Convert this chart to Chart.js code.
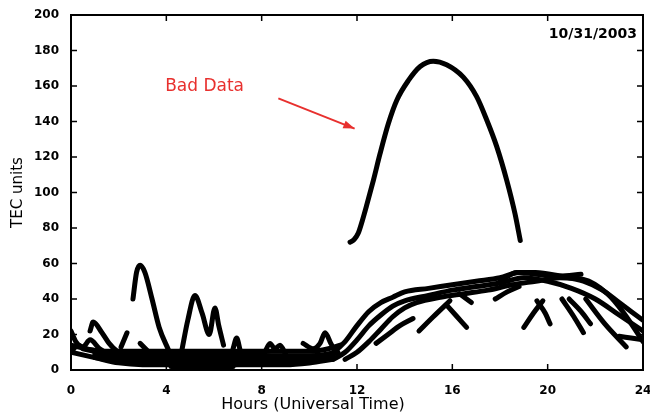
<!DOCTYPE html>
<html>
<head>
<meta charset="utf-8">
<script src="https://cdn.jsdelivr.net/npm/chart.js@4.4.1/dist/chart.umd.min.js"></script>
<style>
  html, body { margin: 0; padding: 0; background: #fff; }
  #wrap { width: 650px; height: 416px; }
</style>
</head>
<body>
<div id="wrap"><canvas id="myChart" width="650" height="416"></canvas></div>
<script>
// each track: [hour UT, TEC units]
const badData = [[11.71,72],[11.88,73.5],[12.05,77],[12.22,84],[12.41,93],[12.69,107],[12.97,122],[13.32,139],[13.67,152],[14.15,163],[14.65,171],[15.2,174],[15.76,172],[16.46,165],[17.02,154],[17.44,141],[17.86,126],[18.28,107],[18.63,88],[18.85,73]];

const startA = [[0,22],[0.2,16],[0.5,13],[0.8,17],[1.2,12],[1.6,9],[2.0,8]];
const startB = [[0,10],[0.3,14],[0.6,12],[1.0,11]];
const bump1h = [[0.8,22],[0.93,27],[1.3,21],[1.6,15],[1.9,11],[2.2,9]];
const bump2h = [[2.1,13],[2.35,21]];
const peak3h = [[2.6,40],[2.75,55],[2.9,59],[3.1,55],[3.4,40],[3.7,24],[4.1,11]];
const blob3h = [[2.9,15],[3.2,11]];
const peak5h = [[4.65,11],[4.9,28],[5.2,42],[5.5,32],[5.8,20],[6.04,35],[6.2,25],[6.4,14]];
const bump7h = [[6.8,12],[6.95,18],[7.1,11]];
const bump8h = [[8.1,9],[8.35,15],[8.55,12],[8.77,14],[9.0,9]];
const bump10h = [[9.74,15],[10.15,12],[10.45,15],[10.66,21],[10.9,15],[11.16,9]];

const baseA = [[0,14],[1,11],[2,10.5],[3,10.5],[4,10.5],[5,10.5],[6,10.5],[7,10.5],[8,10.5],[9,10.5],[10,10.5],[10.8,12],[11.3,14]];
const baseC = [[0.5,12],[1.5,9],[2.5,8.5],[3.5,8.5],[4.5,8.5],[5.5,8.5],[6.5,8.5],[7.5,8.5],[8.5,8],[9.5,8],[10.5,8.5],[11.2,10]];
const baseF = [[1,9],[2,7],[3,7],[4,7],[5,7],[6,7],[7,7],[8,7],[9,7],[10,7],[11,8]];
const baseE = [[1,7],[2,5],[3,5],[4,5],[5,5],[6,5],[7,5],[8,5],[9,5],[10,5.5],[11,7]];
const baseB = [[0,10],[1,7],[2,4],[3,3],[4,3],[5,2.5],[6,2.5],[7,3],[8,3],[9,3],[10,4],[11,6]];
const baseD = [[4.2,2],[5,1],[6,1],[6.8,2]];

const dayA = [[10.5,7],[11,10],[11.5,16],[12,25],[12.5,33],[13,38],[13.5,41],[14,44],[15,46],[16,48],[17,50],[18,52],[18.8,55],[19.5,55],[20.5,53],[21.5,50],[22.3,45],[23,38],[23.5,33],[24,28]];
const dayB = [[11,6],[11.5,10],[12,17],[12.5,25],[13,31],[13.5,36],[14,39],[15,42],[16,45],[17,47],[18,49],[19,52],[20,50],[21,46],[22,40],[23,31],[24,22]];
const dayC = [[11.5,6],[12,10],[12.5,16],[13,23],[13.5,30],[14,35],[14.5,38],[15.5,41],[16.5,43],[17.5,45],[18.5,48],[19.5,50],[20.5,52],[21.5,51],[22.5,43],[23.2,32],[24,16]];
const dayTop = [[18,50],[18.7,55],[19.5,54],[20.5,53],[21.4,54]];

const shortTracks = [
  [[12.8,15],[13.3,20],[13.8,25],[14.35,29]],
  [[14.6,22],[15.2,30],[15.9,39]],
  [[15.8,36],[16.2,30],[16.6,24]],
  [[16.3,43],[16.8,38]],
  [[17.8,40],[18.3,44],[18.8,47]],
  [[19.0,24],[19.4,32],[19.8,39]],
  [[19.55,39],[19.9,32],[20.1,26]],
  [[20.6,40],[21.1,30],[21.5,21]],
  [[20.9,40],[21.4,33],[21.8,26]],
  [[21.6,40],[22.4,26],[23.3,13]],
  [[23.0,19],[23.5,18],[24.0,17]]
];

const xTicks = [0, 4, 8, 12, 16, 20, 24];
const yTicks = [0, 20, 40, 60, 80, 100, 120, 140, 160, 180, 200];

const allTracks = [badData, startA, startB, bump1h, bump2h, peak3h, blob3h, peak5h, bump7h, bump8h, bump10h,
  baseA, baseC, baseF, baseE, baseB, baseD, dayA, dayB, dayC, dayTop, ...shortTracks];

const datasets = allTracks.map(t => ({
  data: t.map(p => ({ x: p[0], y: p[1] })),
  borderColor: '#000',
  backgroundColor: '#000',
  borderWidth: 5,
  pointRadius: 0,
  cubicInterpolationMode: 'monotone',
  borderCapStyle: 'round',
  borderJoinStyle: 'round',
  fill: false
}));

const framePlugin = {
  id: 'frame',
  afterDraw(chart) {
    const ctx = chart.ctx;
    const a = chart.chartArea;
    const xs = chart.scales.x, ys = chart.scales.y;
    ctx.save();
    ctx.strokeStyle = '#000';
    ctx.lineWidth = 2;
    ctx.strokeRect(a.left, a.top, a.right - a.left, a.bottom - a.top);
    ctx.lineWidth = 1.5;
    ctx.beginPath();
    xTicks.forEach(v => {
      const px = xs.getPixelForValue(v);
      ctx.moveTo(px, a.bottom); ctx.lineTo(px, a.bottom - 6);
      ctx.moveTo(px, a.top); ctx.lineTo(px, a.top + 6);
    });
    yTicks.forEach(v => {
      const py = ys.getPixelForValue(v);
      ctx.moveTo(a.left, py); ctx.lineTo(a.left + 6, py);
      ctx.moveTo(a.right, py); ctx.lineTo(a.right - 6, py);
    });
    ctx.stroke();

    // date stamp
    ctx.fillStyle = '#000';
    ctx.font = 'bold 14px "DejaVu Sans"';
    ctx.textAlign = 'right';
    ctx.textBaseline = 'alphabetic';
    ctx.fillText('10/31/2003', a.right - 6, a.top + 23);

    // x axis title
    ctx.font = '16px "DejaVu Sans"';
    ctx.textAlign = 'center';
    ctx.textBaseline = 'middle';
    ctx.fillText('Hours (Universal Time)', 313, 405);

    // bad data note
    ctx.fillStyle = '#e8302e';
    ctx.strokeStyle = '#e8302e';
    ctx.font = '17px "DejaVu Sans"';
    ctx.textAlign = 'left';
    ctx.textBaseline = 'alphabetic';
    ctx.fillText('Bad Data', xs.getPixelForValue(3.95), ys.getPixelForValue(157));
    const x1 = xs.getPixelForValue(8.7), y1 = ys.getPixelForValue(153);
    const x2 = xs.getPixelForValue(11.9), y2 = ys.getPixelForValue(136);
    ctx.lineWidth = 2;
    ctx.beginPath();
    ctx.moveTo(x1, y1); ctx.lineTo(x2, y2);
    ctx.stroke();
    const ang = Math.atan2(y2 - y1, x2 - x1);
    ctx.beginPath();
    ctx.moveTo(x2, y2);
    ctx.lineTo(x2 - 12 * Math.cos(ang - 0.35), y2 - 12 * Math.sin(ang - 0.35));
    ctx.lineTo(x2 - 12 * Math.cos(ang + 0.35), y2 - 12 * Math.sin(ang + 0.35));
    ctx.closePath();
    ctx.fill();
    ctx.restore();
  }
};

const canvasContext = document.getElementById('myChart').getContext('2d');

const myChart = new Chart(canvasContext, {
  type: 'line',
  data: { datasets },
  options: {
    responsive: false,
    animation: false,
    layout: { padding: { left: 2, right: 7, top: 15, bottom: 0 } },
    plugins: { legend: { display: false }, tooltip: { enabled: false } },
    scales: {
      x: {
        type: 'linear',
        min: 0, max: 24,
        grid: { display: false },
        border: { display: false },
        ticks: {
          stepSize: 4,
          padding: 6,
          color: '#000',
          maxRotation: 0,
          font: { family: '"DejaVu Sans"', size: 12, weight: 'bold' }
        },
        afterFit(s) { s.height = 46; s.paddingLeft = 0; s.paddingRight = 0; }
      },
      y: {
        min: 0, max: 200,
        grid: { display: false },
        border: { display: false },
        ticks: {
          stepSize: 20,
          padding: 4,
          color: '#000',
          font: { family: '"DejaVu Sans"', size: 12, weight: 'bold' }
        },
        title: {
          display: true,
          text: 'TEC units',
          color: '#000',
          padding: { top: 7, bottom: 0 },
          font: { family: '"DejaVu Sans"', size: 15 }
        },
        afterFit(s) { s.width = 69; s.paddingTop = 0; s.paddingBottom = 0; }
      }
    }
  },
  plugins: [framePlugin]
});
</script>
</body>
</html>
